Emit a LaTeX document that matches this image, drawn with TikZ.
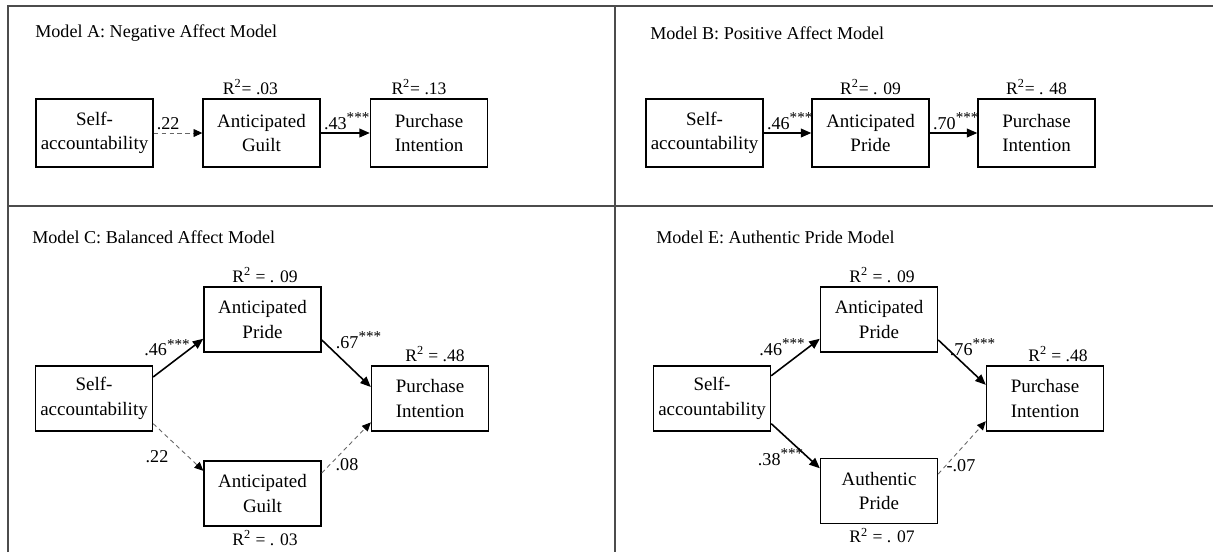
\documentclass[tikz,border=0pt]{standalone}
\usepackage{fontspec}
\setmainfont{Liberation Serif}
\usetikzlibrary{arrows.meta, positioning, calc}
\newcommand{\stars}{\textsuperscript{\fontsize{8.6}{8}\selectfont ***}}

\begin{document}
\begin{tikzpicture}[
		x=0.02cm, y=-0.02cm,
		node distance=1pt,
		frameline/.style={draw=black!70, line width=0.9pt},
		paneltitle/.style={anchor=west, inner sep=0pt, font=\fontsize{10.3}{12}\selectfont},
		var/.style={
				draw, line width=0.8pt,
				minimum width=2.34cm, minimum height=1.36cm,
				align=center, inner sep=0pt,
				font=\fontsize{10.8}{14}\selectfont,
			},
		varlow/.style={var, minimum height=1.3cm},
		rsq/.style={inner sep=1pt, font=\fontsize{10}{12}\selectfont},
		coef/.style={inner sep=1.5pt, font=\fontsize{10.3}{12}\selectfont},
		sigpath/.style={-{Triangle[length=6pt, width=5pt]}, line width=0.9pt},
		nspath/.style={
				-{Triangle[length=5pt, width=4.5pt, black]},
				draw=black!60, dash pattern=on 2.5pt off 2pt, line width=0.5pt,
			},
	]

	\useasboundingbox (0,0) rectangle (1213,552);

	% Rahmen und Trennlinien
	\draw[frameline] (8,552) -- (8,6) -- (1213,6);
	\draw[frameline] (8,206) -- (1213,206);
	\draw[frameline] (615,6) -- (615,552);

	% Überschriften der vier Modelle
	\node[paneltitle] (titleA) at (35,33) {Model A: Negative Affect Model};
	\node[paneltitle] (titleB) at (650,33) {Model B: Positive Affect Model};
	\node[paneltitle] (titleC) at (32,237) {Model C: Balanced Affect Model};
	\node[paneltitle] (titleE) at (656,237) {Model E: Authentic Pride Model};

	% Model A
	\node[var] (selfA) at (94.5,133) {Self-\\accountability};
	\node[var] (guiltA) at (261.5,133) {Anticipated\\Guilt};
	\node[var] (intentA) at (429,133) {Purchase\\Intention};
	\node[rsq, above=of guiltA, xshift=-0.22cm] (rsqguiltA) {R\textsuperscript{2}= .03};
	\node[rsq, above=of intentA, xshift=-0.2cm] (rsqintentA) {R\textsuperscript{2}= .13};
	\draw[nspath] (selfA) -- node[coef, pos=0, anchor=south west] {.22} (guiltA);
	\draw[sigpath] (guiltA) -- node[coef, pos=0, anchor=south west] {.43\stars} (intentA);

	% Model B
	\node[var] (selfB) at (704.5,133) {Self-\\accountability};
	\node[var] (prideB) at (870.5,133) {Anticipated\\Pride};
	\node[var] (intentB) at (1036.5,133) {Purchase\\Intention};
	\node[rsq, above=of prideB] (rsqprideB) {R\textsuperscript{2}= . 09};
	\node[rsq, above=of intentB] (rsqintentB) {R\textsuperscript{2}= . 48};
	\draw[sigpath] (selfB) -- node[coef, pos=0, anchor=south west] {.46\stars} (prideB);
	\draw[sigpath] (prideB) -- node[coef, pos=0, anchor=south west] {.70\stars} (intentB);

	% Model C
	\node[varlow] (selfC) at (94,398.5) {Self-\\accountability};
	\node[varlow] (prideC) at (262.5,319.5) {Anticipated\\Pride};
	\node[varlow] (intentC) at (430,398.5) {Purchase\\Intention};
	\node[varlow] (guiltC) at (262.5,493.5) {Anticipated\\Guilt};
	\node[rsq, above=of prideC, xshift=0.05cm] (rsqprideC) {R\textsuperscript{2} = . 09};
	\node[rsq, above=of intentC, xshift=0.1cm] (rsqintentC) {R\textsuperscript{2} = .48};
	\node[rsq, below=of guiltC, xshift=0.05cm] (rsqguiltC) {R\textsuperscript{2} = . 03};
	\draw[sigpath] (selfC.20) -- node[coef, xshift=-0.215cm, yshift=0.207cm] {.46\stars} (prideC.198);
	\draw[sigpath] (prideC.-19) -- node[coef, xshift=0.255cm, yshift=0.467cm] {.67\stars} (intentC.169);
	\draw[nspath] (selfC.-23) -- node[coef, xshift=-0.425cm, yshift=-0.197cm] {.22} (guiltC.159);
	\draw[nspath] (guiltC.19) -- node[coef, xshift=0.015cm, yshift=-0.345cm] {.08} (intentC.202);

	% Model E
	\node[varlow] (selfE) at (712,398.5) {Self-\\accountability};
	\node[varlow] (prideE) at (879,319.5) {Anticipated\\Pride};
	\node[varlow] (intentE) at (1045,398.5) {Purchase\\Intention};
	\node[varlow] (authE) at (879,491) {Authentic\\Pride};
	\node[rsq, above=of prideE, xshift=0.06cm] (rsqprideE) {R\textsuperscript{2} = . 09};
	\node[rsq, above=of intentE, xshift=0.26cm] (rsqintentE) {R\textsuperscript{2} = .48};
	\node[rsq, below=of authE, xshift=0.06cm] (rsqauthE) {R\textsuperscript{2} = . 07};
	\draw[sigpath] (selfE.21) -- node[coef, xshift=-0.26cm, yshift=0.205cm] {.46\stars} (prideE.198);
	\draw[sigpath] (prideE.-19) -- node[coef, xshift=0.22cm, yshift=0.306cm] {.76\stars} (intentE.167);
	\draw[sigpath] (selfE.-23.5) -- node[coef, xshift=-0.29cm, yshift=-0.226cm] {.38\stars} (authE.159);
	\draw[nspath] (authE.16) -- node[coef, xshift=-0.02cm, yshift=-0.358cm] {-.07} (intentE.201);

\end{tikzpicture}
\end{document}
